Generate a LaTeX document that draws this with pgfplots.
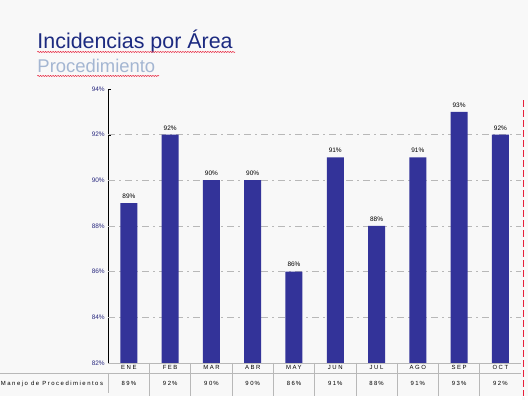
\documentclass[border=0pt]{standalone}
\usepackage{pgfplots}
\pgfplotsset{compat=1.18}
\usepackage{fontspec}
\setmainfont{Liberation Sans}
\usetikzlibrary{decorations.pathmorphing}
\definecolor{bgc}{HTML}{F8F8F8}
\definecolor{barc}{HTML}{333399}
\definecolor{titc}{HTML}{1C2A80}
\definecolor{subc}{HTML}{A4B6D2}
\definecolor{tickc}{HTML}{2A2A80}
\definecolor{gridc}{HTML}{B8B8B8}
\definecolor{redc}{HTML}{E8203A}
\pgfplotstableread{
x v
0 89
1 92
2 90
3 90
4 86
5 91
6 88
7 91
8 93
9 92
}\datatab
\begin{document}
\begin{tikzpicture}
\begin{scope}[x=1bp,y=1bp]
\fill[bgc] (0,0) rectangle (528,-396);
\useasboundingbox (0,0) rectangle (528,-396);
\node[anchor=base west, inner sep=0, text=titc, font=\fontsize{21.5}{22}\selectfont] at (37,-49) {Incidencias por Área};
\node[anchor=base west, inner sep=0, text=subc, font=\fontsize{18.5}{19}\selectfont] at (37,-73) {Procedimiento};
\draw[redc, line width=0.5bp, decorate, decoration={snake, amplitude=0.6bp, segment length=2.5bp}] (37,-52) -- (235,-52);
\draw[redc, line width=0.5bp, decorate, decoration={snake, amplitude=0.6bp, segment length=2.5bp}] (37,-76) -- (159,-76);
\fill[redc] (522.8,-100) rectangle (524.3,-396);
\end{scope}
\begin{axis}[
  at={(108bp,-363bp)}, anchor=south west,
  scale only axis, width=413bp, height=274bp,
  xmin=-0.5, xmax=9.5, ymin=82, ymax=94,
  ytick={82,84,...,94},
  yticklabel={\pgfmathprintnumber{\tick}\%},
  /pgf/number format/assume math mode=true,
  yticklabel style={font=\fontsize{6.5}{7}\selectfont, text=tickc},
  xtick=\empty,
  axis lines*=left,
  x axis line style={gridc},
  y axis line style={black, line width=0.8bp},
  major tick length=3bp,
  ytick style={black},
  extra y ticks={84,86,88,90,92},
  extra y tick labels={},
  extra y tick style={grid=major, major tick length=0pt},
  major grid style={gridc, dash pattern=on 7bp off 4bp on 2bp off 4bp},
  ybar, bar width=17bp,
  clip=false,
  nodes near coords={\pgfmathprintnumber{\pgfplotspointmeta}\%},
  every node near coord/.append style={font=\fontsize{6.5}{7}\selectfont, text=black, yshift=1bp},
]
\addplot[fill=barc, draw=none, bar shift=0pt] table[x=x,y=v] {\datatab};
\foreach \i/\n/\v in {0/ENE/89,1/FEB/92,2/MAR/90,3/ABR/90,4/MAY/86,5/JUN/91,6/JUL/88,7/AGO/91,8/SEP/93,9/OCT/92} {
  \edef\tmp{\noexpand\node[font=\noexpand\fontsize{6}{7}\noexpand\selectfont\noexpand\addfontfeature{LetterSpace=25}, inner sep=0] at (axis cs:\i,82) [yshift=-5bp] {\n};
  \noexpand\node[font=\noexpand\fontsize{6}{7}\noexpand\selectfont\noexpand\addfontfeature{LetterSpace=25}, inner sep=0] at (axis cs:\i,82) [yshift=-21bp] {\v\noexpand\,\noexpand\%};}
  \tmp
}
\end{axis}
\begin{scope}[x=1bp,y=1bp]
\draw[gridc, line width=0.6bp] (0,-373) -- (521,-373);
\foreach \k in {1,...,9} {\draw[gridc, line width=0.6bp] ({108+41.3*\k},-363) -- ({108+41.3*\k},-396);}
\draw[gridc, line width=0.6bp] (108,-373) -- (108,-393);
\node[anchor=east, inner sep=0, font=\fontsize{6}{7}\selectfont\addfontfeature{LetterSpace=25}] at (103,-384) {Manejo de Procedimientos};
\foreach \yy in {100,110,...,390} {\fill[bgc] (522,-\yy-7) rectangle (525,-\yy-10);}
\end{scope}
\end{tikzpicture}
\end{document}
